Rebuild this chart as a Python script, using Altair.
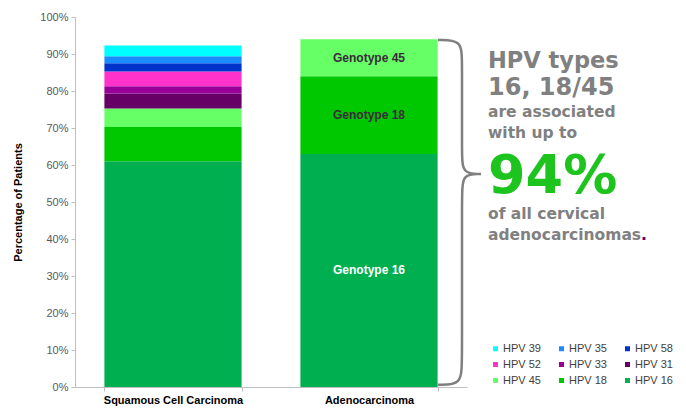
import altair as alt
import pandas as pd

# ---- data ----
categories = ["Squamous Cell Carcinoma", "Adenocarcinoma"]
types = ["HPV 16", "HPV 18", "HPV 45", "HPV 31", "HPV 33", "HPV 52", "HPV 58", "HPV 35", "HPV 39"]
squamous_values = [61, 9.3, 5, 4, 2, 4, 2.2, 1.9, 2.9]
adeno_types = ["HPV 16", "HPV 18", "HPV 45"]
adeno_values = [63, 21, 10]

legend_order = ["HPV 39", "HPV 35", "HPV 58", "HPV 52", "HPV 33", "HPV 31", "HPV 45", "HPV 18", "HPV 16"]
legend_colors = ["#00ffff", "#1a8cff", "#0033cc", "#ff33cc", "#990099", "#660066", "#66ff66", "#00c800", "#00b050"]

y_ticks = [0, 10, 20, 30, 40, 50, 60, 70, 80, 90, 100]

# brace outline (plot-pixel x, percent y) - decorative annotation
brace_x = [363, 387, 387, 387, 387, 406, 406, 406, 387, 387, 387, 387, 363]
brace_y = [93.8, 93.8, 88, 63.5, 57.6, 57.6, 57.6, 57.6, 57.6, 51.5, 7, 0.6, 0.6]

rows = []
for t, v in zip(types, squamous_values):
    rows.append({"category": categories[0], "type": t, "value": v, "ord": types.index(t)})
for t, v in zip(adeno_types, adeno_values):
    rows.append({"category": categories[1], "type": t, "value": v, "ord": types.index(t)})
df = pd.DataFrame(rows)

brace_df = pd.DataFrame({"bx": brace_x, "by": brace_y, "i": list(range(len(brace_x)))})

FONT = "Liberation Sans"
W, H = 392, 370

x_scale = alt.Scale(domain=categories, paddingInner=0.3, paddingOuter=0.15)
y_scale = alt.Scale(domain=[0, 100], nice=False)

bars = alt.Chart(df).mark_bar().encode(
    x=alt.X(
        "category:N",
        title=None,
        scale=x_scale,
        axis=alt.Axis(
            labelAngle=0, labelFont=FONT, labelFontSize=11, labelFontWeight="bold",
            labelColor="#000000", domainColor="#bfbfbf", tickColor="#bfbfbf",
            tickBand="extent", tickSize=4, labelPadding=3,
        ),
    ),
    y=alt.Y(
        "value:Q", stack="zero", scale=y_scale,
        title="Percentage of Patients",
        axis=alt.Axis(
            values=y_ticks, labelExpr="datum.value + '%'", grid=False,
            labelFont=FONT, labelFontSize=11, labelColor="#595959",
            domainColor="#bfbfbf", tickColor="#bfbfbf", tickSize=4, labelPadding=3,
            titleFont=FONT, titleFontSize=11, titleFontWeight="bold", titleColor="#000000",
            titlePadding=16, labelOverlap=False,
        ),
    ),
    color=alt.Color(
        "type:N",
        scale=alt.Scale(domain=legend_order, range=legend_colors),
        legend=alt.Legend(
            title=None, orient="none", legendX=415, legendY=326, columns=3,
            direction="horizontal",
            symbolType="square", symbolSize=25, symbolStrokeWidth=0,
            labelFont=FONT, labelFontSize=11, labelColor="#404040",
            columnPadding=15, rowPadding=4, labelOffset=2, padding=0,
        ),
    ),
    order=alt.Order("ord:Q", sort="ascending"),
)

labels = alt.Chart(df).transform_stack(
    stack="value", groupby=["category"], as_=["y0", "y1"],
    sort=[alt.SortField("ord", order="ascending")],
).transform_filter(
    alt.datum.category == categories[1]
).transform_calculate(
    mid="(datum.y0 + datum.y1) / 2",
    lab="'Genotype ' + replace(datum.type, 'HPV ', '')",
).mark_text(font=FONT, fontSize=12, fontWeight="bold").encode(
    x=alt.X("category:N", scale=x_scale, axis=None),
    y=alt.Y("mid:Q", scale=y_scale, axis=None),
    text="lab:N",
    color=alt.condition("datum.type == 'HPV 16'", alt.value("#ffffff"), alt.value("#3b2b3b")),
)

brace = alt.Chart(brace_df).mark_line(
    interpolate="basis", color="#7f7f7f", strokeWidth=2.5
).encode(
    x=alt.X("bx:Q", scale=alt.Scale(domain=[0, W]), axis=None),
    y=alt.Y("by:Q", scale=y_scale, axis=None),
    order="i:Q",
)

def note(txt, xpx, ypx, size, color="#808080", font="DejaVu Sans"):
    return alt.Chart(pd.DataFrame({"t": [txt]})).mark_text(
        align="left", baseline="alphabetic", font=font, fontWeight="bold",
        fontSize=size, color=color,
    ).encode(x=alt.value(xpx), y=alt.value(ypx), text="t:N")

X0 = 413
notes = [
    note("HPV types", X0, 51, 22.5),
    note("16, 18/45", X0, 78, 24),
    note("are associated", X0, 100, 15.5),
    note("with up to", X0, 121, 15.5),
    note("94%", X0, 176, 54, color="#1ec41e"),
    note("of all cervical", X0, 202, 15.5),
    note("adenocarcinomas", X0, 223, 15.5),
    note(".", X0 + 153, 223, 15.5, color="#660066"),
]

chart = alt.layer(bars, labels, brace, *notes).resolve_scale(
    x="independent", y="independent"
).properties(
    width=W, height=H,
    autosize=alt.AutoSizeParams(type="none"),
    padding={"left": 67, "top": 9, "right": 211, "bottom": 21},
).configure_view(stroke=None)

chart.save("out.html", embed_options={"renderer": "svg", "actions": False})
